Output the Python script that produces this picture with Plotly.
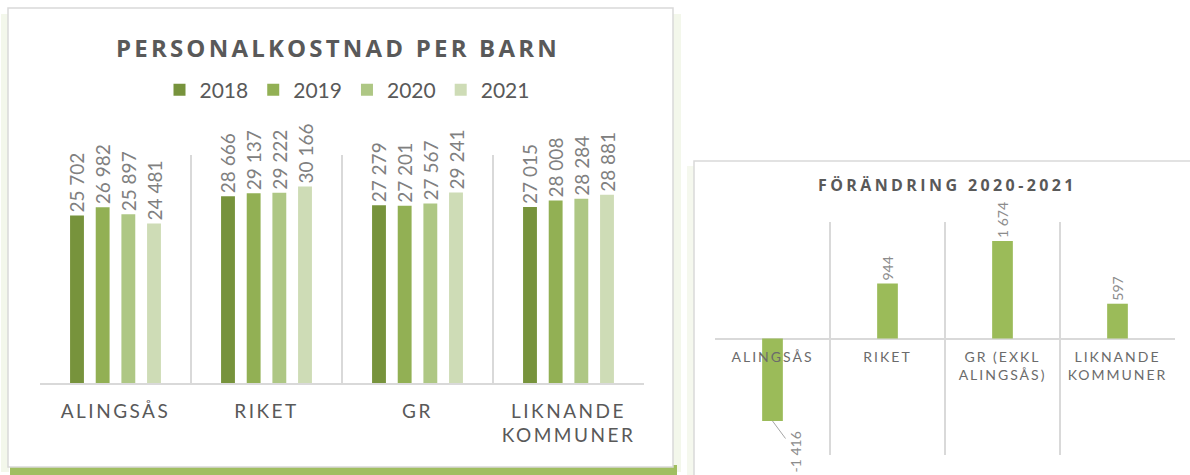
import plotly.graph_objects as go

# ---------------- data ----------------
categories = ["ALINGSÅS", "RIKET", "GR", "LIKNANDE KOMMUNER"]
years = ["2018", "2019", "2020", "2021"]
cost_2018 = [25702, 28666, 27279, 27015]
cost_2019 = [26982, 29137, 27201, 28008]
cost_2020 = [25897, 29222, 27567, 28284]
cost_2021 = [24481, 30166, 29241, 28881]

change_categories = ["ALINGSÅS", "RIKET", "GR (EXKL ALINGSÅS)", "LIKNANDE KOMMUNER"]
change_2020_2021 = [-1416, 944, 1674, 597]

left_title = "PERSONALKOSTNAD PER BARN"
right_title = "FÖRÄNDRING 2020-2021"

# ---------------- style ----------------
W, H = 1190, 475
year_colors = ["#77933C", "#92B054", "#AEC784", "#CEDCB6"]
change_color = "#9BBB59"
text_dark = "#595959"
label_gray = "#808080"
grid_col = "#D9D9D9"
FONT = "Lato"
TFONT = "Open Sans"


def px_x(x):
    return x / W


def px_y(y):
    return 1 - y / H


def fmt(v):
    s = f"{abs(v):,}".replace(",", " ")
    return ("-" if v < 0 else "") + s


def spaced(label, ls):
    lines = label.split("|")
    return "<br>".join(f'<span style="letter-spacing:{ls}px">{ln}</span>' for ln in lines)


left_labels = {"ALINGSÅS": "ALINGSÅS", "RIKET": "RIKET", "GR": "GR",
               "LIKNANDE KOMMUNER": "LIKNANDE|KOMMUNER"}
right_labels = {"ALINGSÅS": "ALINGSÅS", "RIKET": "RIKET",
                "GR (EXKL ALINGSÅS)": "GR (EXKL|ALINGSÅS)",
                "LIKNANDE KOMMUNER": "LIKNANDE|KOMMUNER"}

fig = go.Figure()

series = [cost_2018, cost_2019, cost_2020, cost_2021]
for yr, vals, col in zip(years, series, year_colors):
    fig.add_trace(go.Bar(
        x=categories, y=vals, name=yr,
        marker=dict(color=col, line=dict(width=0)),
        text=[fmt(v) for v in vals], textposition="outside", textangle=-90,
        textfont=dict(family=FONT, size=19, color=label_gray),
        constraintext="none", cliponaxis=False, xaxis="x", yaxis="y",
        hoverinfo="x+y",
    ))

fig.add_trace(go.Bar(
    x=change_categories, y=change_2020_2021, name="Förändring",
    marker=dict(color=change_color, line=dict(width=0)),
    width=0.18, offset=-0.09,
    text=[fmt(v) if v >= 0 else "" for v in change_2020_2021],
    textposition="outside", textangle=-90,
    textfont=dict(family=FONT, size=14, color="#8C8C8C"),
    constraintext="none", cliponaxis=False, showlegend=False,
    xaxis="x2", yaxis="y2",
))

# negative value label with leader line
annotations = []
for cat, v in zip(change_categories, change_2020_2021):
    if v < 0:
        annotations.append(dict(
            x=cat, y=v, xref="x2", yref="y2", text=fmt(v), textangle=-90,
            showarrow=True, arrowhead=0, arrowwidth=1, arrowcolor="#A6A6A6",
            ax=23, ay=31, font=dict(family=FONT, size=14, color="#8C8C8C"),
            standoff=0,
        ))

annotations.append(dict(
    x=px_x(338), y=px_y(47), xref="paper", yref="paper", showarrow=False,
    text=f'<span style="letter-spacing:3.2px">{left_title}</span>',
    font=dict(family=TFONT, size=24, color=text_dark, weight=700),
    xanchor="center", yanchor="middle",
))
annotations.append(dict(
    x=px_x(948), y=px_y(185), xref="paper", yref="paper", showarrow=False,
    text=f'<span style="letter-spacing:3.4px">{right_title}</span>',
    font=dict(family=TFONT, size=16, color=text_dark, weight=700),
    xanchor="center", yanchor="middle",
))

# panel decorations (paper coords)
shapes = [
    dict(type="rect", xref="paper", yref="paper", x0=px_x(1), x1=px_x(9), y0=px_y(472), y1=px_y(14),
         fillcolor=change_color, opacity=0.12, line=dict(width=0), layer="below"),
    dict(type="rect", xref="paper", yref="paper", x0=px_x(673), x1=px_x(681), y0=px_y(472), y1=px_y(14),
         fillcolor=change_color, opacity=0.12, line=dict(width=0), layer="below"),
    dict(type="rect", xref="paper", yref="paper", x0=px_x(10), x1=px_x(677), y0=px_y(475), y1=px_y(465),
         fillcolor=change_color, opacity=0.95, line=dict(width=0), layer="below"),
    dict(type="rect", xref="paper", yref="paper", x0=px_x(8), x1=px_x(673), y0=px_y(467), y1=px_y(8),
         fillcolor="white", line=dict(color=grid_col, width=1.5), layer="below"),
    dict(type="rect", xref="paper", yref="paper", x0=px_x(687), x1=px_x(695), y0=px_y(480), y1=px_y(166),
         fillcolor=change_color, opacity=0.10, line=dict(width=0), layer="below"),
    dict(type="rect", xref="paper", yref="paper", x0=px_x(694), x1=px_x(1196), y0=px_y(482), y1=px_y(161),
         fillcolor="white", line=dict(color=grid_col, width=1.5), layer="below"),
]

y2_dom = [px_y(455), px_y(222)]
y2_rng = [-2000, 2000]
zero_pos = y2_dom[0] + (0 - y2_rng[0]) / (y2_rng[1] - y2_rng[0]) * (y2_dom[1] - y2_dom[0])

fig.update_layout(
    width=W, height=H, autosize=False,
    margin=dict(l=0, r=0, t=0, b=0),
    paper_bgcolor="white", plot_bgcolor="rgba(0,0,0,0)",
    barmode="group", bargap=0.32, bargroupgap=0.46,
    font=dict(family=FONT, color=text_dark),
    showlegend=True,
    legend=dict(orientation="h", x=px_x(347), xanchor="center", y=px_y(90), yanchor="middle",
                font=dict(family=FONT, size=21, color=text_dark), itemwidth=30,
                bgcolor="rgba(0,0,0,0)", traceorder="normal"),
    xaxis=dict(domain=[px_x(40), px_x(644)], anchor="y", type="category",
               categoryorder="array", categoryarray=categories,
               tickmode="array", tickvals=categories,
               ticktext=[spaced(left_labels[c], 2.5) for c in categories],
               tickson="boundaries", showgrid=True, gridcolor=grid_col, gridwidth=1.5,
               showline=True, linecolor=grid_col, linewidth=1.5, ticks="",
               tickfont=dict(family=FONT, size=19, color=text_dark),
               ticklabelstandoff=10, fixedrange=True),
    yaxis=dict(domain=[px_y(383), px_y(155)], anchor="x", range=[0, 35000],
               showgrid=False, zeroline=False, showticklabels=False, ticks="",
               showline=False, fixedrange=True),
    xaxis2=dict(domain=[px_x(715), px_x(1175)], anchor="free", position=zero_pos,
                type="category", categoryorder="array", categoryarray=change_categories,
                tickmode="array", tickvals=change_categories,
                ticktext=[spaced(right_labels[c], 2) for c in change_categories],
                tickson="boundaries", showgrid=True, gridcolor=grid_col, gridwidth=1.5,
                showline=False, ticks="",
                tickfont=dict(family=FONT, size=14, color="#6B6B6B"),
                ticklabelstandoff=8, fixedrange=True),
    yaxis2=dict(domain=y2_dom, anchor="x2", range=y2_rng,
                showgrid=False, zeroline=True, zerolinecolor=grid_col, zerolinewidth=1.5,
                showticklabels=False, ticks="", showline=False, fixedrange=True),
    annotations=annotations,
    shapes=shapes,
)

fig.write_html("out.html", config={"displayModeBar": False},
               post_script="document.body.style.margin='0px';document.body.style.overflow='hidden';")
